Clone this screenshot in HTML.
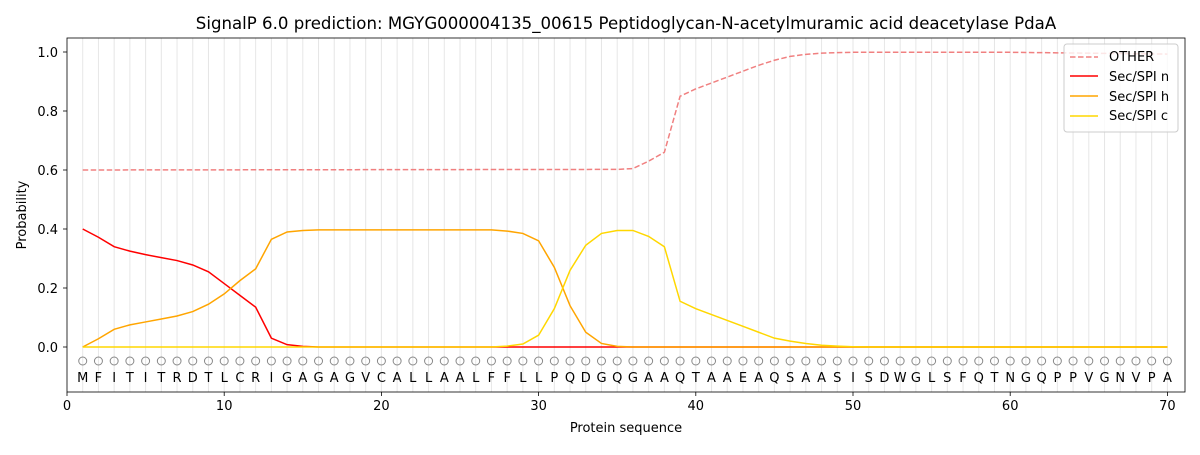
<!DOCTYPE html>
<html><head><meta charset="utf-8"><style>
body{margin:0;background:#fff;}
svg{font-family:"DejaVu Sans","Liberation Sans",sans-serif;}
</style></head><body>
<svg id="s" width="1200" height="450" xmlns="http://www.w3.org/2000/svg">
<rect width="1200" height="450" fill="#fff"/>
<g id="grid"></g>
<g id="lines" fill="none" stroke-width="1.5"></g>
<rect x="67" y="38" width="1118" height="354" fill="none" stroke="#000" stroke-width="0.8"/>
<text x="626" y="29" font-size="16.6" text-anchor="middle">SignalP 6.0 prediction: MGYG000004135_00615 Peptidoglycan-N-acetylmuramic acid deacetylase PdaA</text>
<text font-size="13" text-anchor="middle" y="382" x="82.7 98.4 114.2 129.9 145.6 161.3 177 192.8 208.5 224.2 239.9 255.6 271.4 287.1 302.8 318.5 334.2 350 365.7 381.4 397.1 412.8 428.6 444.3 460 475.7 491.4 507.2 522.9 538.6 554.3 570 585.8 601.5 617.2 632.9 648.6 664.4 680.1 695.8 711.5 727.2 743 758.7 774.4 790.1 805.8 821.6 837.3 853 868.7 884.4 900.2 915.9 931.6 947.3 963 978.8 994.5 1010.2 1025.9 1041.6 1057.4 1073.1 1088.8 1104.5 1120.2 1136 1151.7 1167.4">MFITITRDTLCRIGAGAGVCALLAALFFLLPQDGQGAAQTAAEAQSAASISDWGLSFQTNGQPPVGNVPA</text>
<g font-size="13" text-anchor="middle">
<text x="67" y="410">0</text><text x="224.2" y="410">10</text><text x="381.4" y="410">20</text><text x="538.6" y="410">30</text><text x="695.8" y="410">40</text><text x="853" y="410">50</text><text x="1010.2" y="410">60</text><text x="1167.4" y="410">70</text>
<text x="626" y="432">Protein sequence</text>
</g>
<g font-size="13" text-anchor="end">
<text x="58" y="352">0.0</text><text x="58" y="293">0.2</text><text x="58" y="234">0.4</text><text x="58" y="175">0.6</text><text x="58" y="116">0.8</text><text x="58" y="57">1.0</text>
</g>
<text transform="translate(26,215) rotate(-90)" font-size="13" text-anchor="middle">Probability</text>
<g id="ticks" stroke="#000" stroke-width="0.8"></g>
<g>
<rect x="1064" y="44" width="114" height="88" rx="3" fill="#fff" fill-opacity="0.8" stroke="#ccc"/>
<line x1="1070" y1="57" x2="1098" y2="57" stroke="#f08080" stroke-width="1.5" stroke-dasharray="5.5,2.5"/>
<line x1="1070" y1="76" x2="1098" y2="76" stroke="#ff0000" stroke-width="1.5"/>
<line x1="1070" y1="96" x2="1098" y2="96" stroke="#ffa500" stroke-width="1.5"/>
<line x1="1070" y1="116" x2="1098" y2="116" stroke="#ffd700" stroke-width="1.5"/>
<g font-size="13"><text x="1109" y="61">OTHER</text><text x="1109" y="81">Sec/SPI n</text><text x="1109" y="101">Sec/SPI h</text><text x="1109" y="120">Sec/SPI c</text></g>
</g>
</svg>
<script>
var NS="http://www.w3.org/2000/svg";
function X(i){return 67+15.72*i;} function Y(v){return 347-295*v;}
function el(t,a,p){var e=document.createElementNS(NS,t);for(var k in a)e.setAttribute(k,a[k]);document.getElementById(p).appendChild(e);}
for(var i=1;i<=70;i++){el('line',{x1:X(i),x2:X(i),y1:38,y2:392,stroke:'#e6e6e6','stroke-width':1},'grid');
el('circle',{cx:X(i),cy:361,r:4,fill:'none',stroke:'#888','stroke-width':1},'grid');}
for(var t=0;t<=70;t+=10)el('line',{x1:X(t),x2:X(t),y1:392,y2:396},'ticks');
[0,0.2,0.4,0.6,0.8,1].forEach(function(v){el('line',{x1:63,x2:67,y1:Y(v),y2:Y(v)},'ticks');});
var O=[],N=[],H=[],C=[];
var oa={35:0.602,36:0.605,37:0.63,38:0.66,39:0.85,40:0.875,41:0.895,42:0.915,43:0.935,44:0.955,45:0.972,46:0.985,47:0.992,48:0.996,49:0.998};
var na=[0.4,0.372,0.34,0.325,0.313,0.303,0.293,0.278,0.255,0.215,0.175,0.135,0.03,0.008,0.002];
var ha=[0,0.028,0.06,0.075,0.085,0.095,0.105,0.12,0.145,0.18,0.225,0.265,0.365,0.39,0.395];
var hb={28:0.393,29:0.385,30:0.36,31:0.27,32:0.14,33:0.05,34:0.012,35:0.002};
var ca={28:0.003,29:0.01,30:0.04,31:0.13,32:0.26,33:0.345,34:0.385,35:0.395,36:0.395,37:0.375,38:0.34,39:0.155,40:0.13,41:0.11,42:0.09,43:0.07,44:0.05,45:0.03,46:0.02,47:0.012,48:0.006,49:0.003,50:0.001};
for(var i=1;i<=70;i++){
var o=i<35?0.6+0.002*i/35:(oa[i]!==undefined?oa[i]:(i<60?0.999:0.999-(i-60)*0.0006));
var n=i<=15?na[i-1]:0;
var h=i<=15?ha[i-1]:(i<28?0.397:(hb[i]!==undefined?hb[i]:0));
var c=ca[i]||0;
O.push(X(i)+','+Y(o));N.push(X(i)+','+Y(n));H.push(X(i)+','+Y(h));C.push(X(i)+','+Y(c));}
el('polyline',{points:O.join(' '),stroke:'#f08080','stroke-dasharray':'5.5,2.5'},'lines');
el('polyline',{points:N.join(' '),stroke:'#ff0000'},'lines');
el('polyline',{points:H.join(' '),stroke:'#ffa500'},'lines');
el('polyline',{points:C.join(' '),stroke:'#ffd700'},'lines');
</script>
</body></html>
